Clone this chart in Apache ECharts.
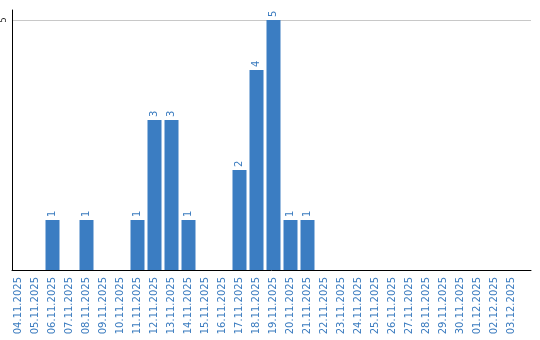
<!DOCTYPE html>
<html>
<head>
<meta charset="utf-8">
<script src="https://cdn.jsdelivr.net/npm/echarts@6/dist/echarts.min.js"></script>
<style>html,body{margin:0;padding:0;background:#fff}#c{width:540px;height:340px}</style>
</head>
<body>
<div id="c"></div>
<script>
const dates = ["04.11.2025","05.11.2025","06.11.2025","07.11.2025","08.11.2025","09.11.2025","10.11.2025","11.11.2025","12.11.2025","13.11.2025","14.11.2025","15.11.2025","16.11.2025","17.11.2025","18.11.2025","19.11.2025","20.11.2025","21.11.2025","22.11.2025","23.11.2025","24.11.2025","25.11.2025","26.11.2025","27.11.2025","28.11.2025","29.11.2025","30.11.2025","01.12.2025","02.12.2025","03.12.2025"];
const counts = [0,0,1,0,1,0,0,1,3,3,1,0,0,2,4,5,1,1,0,0,0,0,0,0,0,0,0,0,0,0];
const yMax = 5.2;
const yTick = 5;

const chart = echarts.init(document.getElementById('c'), null, {renderer:'canvas'});
chart.setOption({
  animation:false,
  grid:[
    {left:10, top:10, width:510, height:260},
    {left:10, top:10, right:9, height:260}
  ],
  xAxis:[
    {gridIndex:0, type:'category', data:dates, boundaryGap:true,
     axisLine:{show:false}, axisTick:{show:false},
     axisLabel:{rotate:90, interval:0, margin:7, color:'#3a7bbf', fontFamily:'DejaVu Sans', fontSize:10}},
    {gridIndex:1, type:'value', min:0, max:1,
     axisLine:{show:true, onZero:false, lineStyle:{color:'#000', width:1}},
     axisTick:{show:false}, axisLabel:{show:false}, splitLine:{show:false}}
  ],
  yAxis:[
    {gridIndex:0, type:'value', min:0, max:yMax, show:false, splitLine:{show:false}},
    {gridIndex:1, type:'value', min:0, max:yMax, interval:yTick,
     axisLine:{show:true, lineStyle:{color:'#000', width:1}},
     axisTick:{show:false},
     axisLabel:{rotate:90, margin:4, showMinLabel:false, showMaxLabel:false, color:'#222', fontFamily:'DejaVu Sans', fontSize:8},
     splitLine:{show:true, showMinLine:false, showMaxLine:false, lineStyle:{color:'#c8c8c8', width:1}}}
  ],
  series:[{
    type:'bar', xAxisIndex:0, yAxisIndex:0, data:counts, barWidth:14,
    itemStyle:{color:'#3b7dc2'},
    label:{show:true, position:'top', rotate:90, align:'left', verticalAlign:'middle', distance:3,
      color:'#3a7bbf', fontFamily:'DejaVu Sans', fontSize:10,
      formatter:p => p.value ? String(p.value) : ''}
  }]
});
</script>
</body>
</html>
